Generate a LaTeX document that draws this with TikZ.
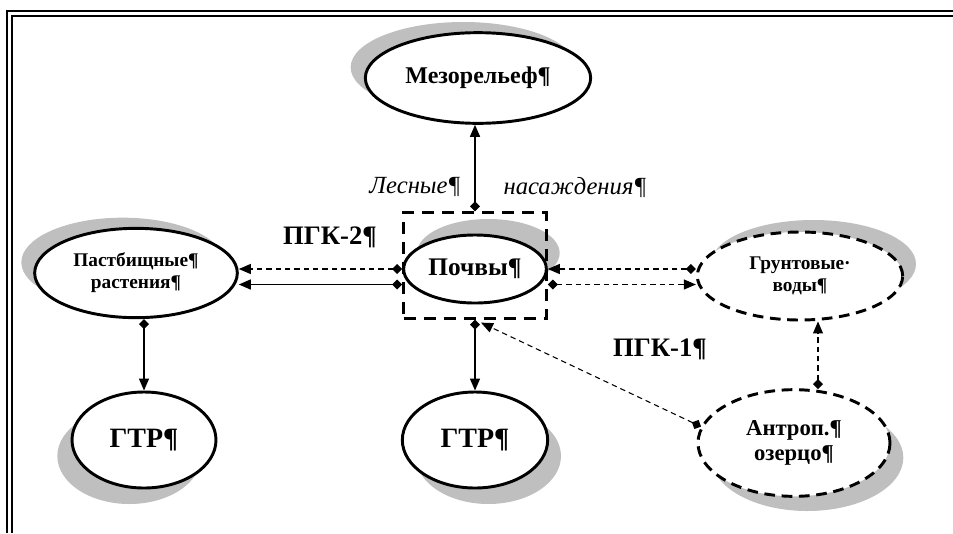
\documentclass[tikz,border=0pt]{standalone}
\usepackage{fontspec}
\setmainfont{Liberation Serif}
\usetikzlibrary{calc}
\usetikzlibrary{arrows.meta}
\usetikzlibrary{shadows}
\usetikzlibrary{shapes.geometric}
\tikzset{
  every node/.style = {font = \bfseries}
}
\tikzset{
    >={Triangle[length=9pt,width=7.5pt]}
}
\tikzset{
  oval/.style = {ellipse, draw, line width=2.2pt, fill=white, inner sep=0pt, align=center},
  dashoval/.style = {oval, dash pattern=on 8pt off 5pt},
  sh/.style 2 args = {general shadow={fill=black!25, shadow xshift=#1, shadow yshift=#2}},
  con/.style = {{Diamond[length=7.5pt,width=7.5pt]}->, line width=1.1pt},
  dcon/.style = {con, dash pattern=on 4pt off 3pt, line width=0.8pt},
  gkbox/.style = {draw, line width=2.2pt, dash pattern=on 9pt off 6pt, inner sep=0pt},
  lbl/.style = {font=\mdseries\itshape\fontsize{18.5}{20}\selectfont},
  gk/.style = {font=\bfseries\fontsize{20}{22}\selectfont}
}

\begin{document}
\begin{tikzpicture}[x=0.75pt,y=-0.75pt]
\useasboundingbox (0,0) rectangle (953,533);

% Frame
\draw[line width=2.2pt] (7,533) |- (953,11);
\draw[line width=0.9pt] (12,533) |- (953,16);

% Ellipses
\node[oval, sh={-11pt}{8pt}, minimum width=169pt, minimum height=68pt,
  font=\bfseries\fontsize{18}{20}\selectfont] (mezo) at (478,78) {Мезорельеф¶};
\node[oval, sh={-10pt}{8pt}, minimum width=152pt, minimum height=67pt,
  font=\bfseries\fontsize{14.5}{16.5}\selectfont] (pastb) at (136,273) {Пастбищные¶\\растения¶};
\node[oval, sh={10pt}{12pt}, minimum width=107pt, minimum height=51pt,
  font=\bfseries\fontsize{19}{21}\selectfont] (pochvy) at (475,269) {Почвы¶};
\node[dashoval, sh={10pt}{9pt}, minimum width=154pt, minimum height=66pt,
  font=\bfseries\fontsize{14.5}{16.5}\selectfont] (grunt) at (800,276) {Грунтовые·\\воды¶};
\node[dashoval, sh={10pt}{-11pt}, minimum width=144pt, minimum height=80pt,
  font=\bfseries\fontsize{17}{19}\selectfont] (antrop) at (794,443) {Антроп.¶\\озерцо¶};
\node[oval, sh={-11pt}{-12pt}, minimum width=108pt, minimum height=72pt,
  font=\bfseries\fontsize{21}{23}\selectfont] (gtr1) at (144,440) {ГТР¶};
\node[oval, sh={10pt}{-12pt}, minimum width=109pt, minimum height=72pt,
  font=\bfseries\fontsize{21}{23}\selectfont] (gtr2) at (475,440) {ГТР¶};

% Box round the soils
\node[gkbox, minimum width=107pt, minimum height=79pt] (box) at (475,265.5) {};

% Connectors
\draw[con] (box.north) -- (box.north |- mezo.south);
\draw[con] (box.south) -- (gtr2.north);
\draw[con] (pastb.south -| gtr1.north) -- (gtr1.north);

\coordinate (lo) at ($(box.west)+(0,19)$);
\coordinate (ro) at ($(box.east)+(0,19)$);
\draw[dcon] (pochvy.west) -- (pastb.east |- pochvy.west);
\draw[con] (lo) -- (pastb.east |- lo);
\draw[dcon] (grunt.west |- pochvy.east) -- (pochvy.east);
\draw[dcon] (ro) -- (grunt.west |- ro);

\coordinate (ag) at ($(antrop.north)+(24,1)$);
\draw[dcon] (ag) -- (grunt.south -| ag);
\draw[dcon] (antrop.170) -- ($(box.south)+(6,3)$);

% Labels
\node[lbl] (les) at (415,187) {Лесные¶};
\node[lbl] (nas) at (575,187) {насаждения¶};
\node[gk] (gk2) at (330,237) {ПГК-2¶};
\node[gk] (gk1) at (660,349) {ПГК-1¶};
\end{tikzpicture}
\end{document}
